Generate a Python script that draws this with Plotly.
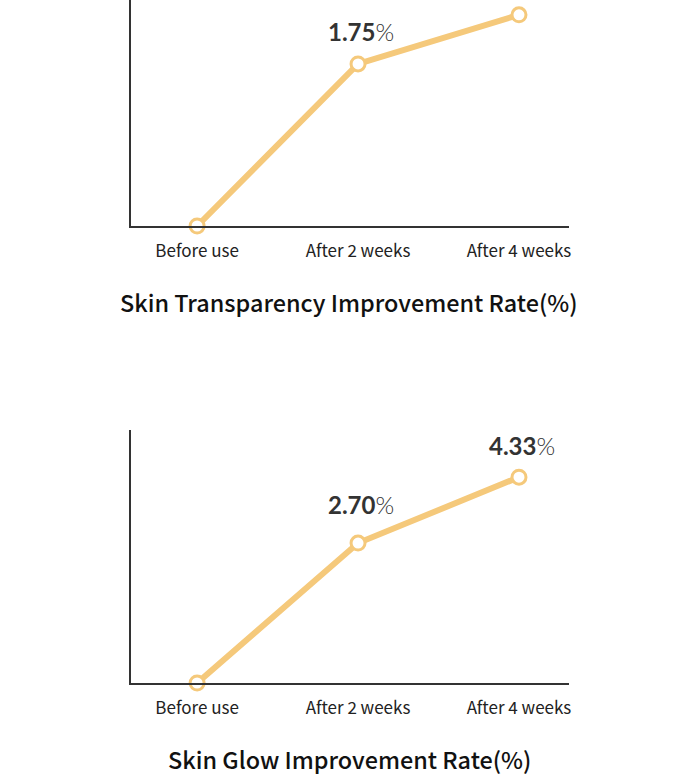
import plotly.graph_objects as go

categories = ["Before use", "After 2 weeks", "After 4 weeks"]
transparency_values = [0.0, 1.75, 2.28]
transparency_labels = ["", "1.75", ""]
glow_values = [0.0, 2.70, 3.97]
glow_labels = ["", "2.70", "4.33"]
titles = ["Skin Transparency Improvement Rate(%)", "Skin Glow Improvement Rate(%)"]

W, H = 700, 784
LINE = "#F5C97B"
TXT = "#222222"
LABEL_FONT = "Noto Sans CJK KR"

fig = go.Figure()

panels = [
    dict(vals=transparency_values, labels=transparency_labels, xa="x", ya="y",
         xaxis="xaxis", yaxis="yaxis", top=0, bottom=226, yrange=[0, 2.44],
         title_y=302, shifts=[0, 32, 32]),
    dict(vals=glow_values, labels=glow_labels, xa="x2", ya="y2",
         xaxis="xaxis2", yaxis="yaxis2", top=430, bottom=683, yrange=[0, 4.88],
         title_y=759, shifts=[0, 39, 32]),
]

x_left, x_right = 131.5, 570.5
annotations = []
for i, p in enumerate(panels):
    fig.add_trace(go.Scatter(
        x=categories, y=p["vals"], xaxis=p["xa"], yaxis=p["ya"],
        mode="lines+markers",
        line=dict(color=LINE, width=6),
        marker=dict(size=14, color="white", line=dict(color=LINE, width=3)),
        cliponaxis=False, showlegend=False, hoverinfo="skip",
    ))
    for c, v, lab, sh in zip(categories, p["vals"], p["labels"], p["shifts"]):
        if lab:
            annotations.append(dict(
                x=c, y=v, xref=p["xa"], yref=p["ya"], showarrow=False,
                text=f"<b>{lab}</b><span style='font-weight:300'>%</span>",
                font=dict(family="Lato", size=24, color="#333333", weight=900),
                yshift=sh, xshift=3,
            ))
    annotations.append(dict(
        x=0.5, y=1 - p["title_y"] / H, xref="paper", yref="paper",
        showarrow=False, text=titles[i],
        font=dict(family=LABEL_FONT, size=23.4, color="#111111", weight=500),
        xanchor="center", yanchor="middle",
    ))
    ax_common = dict(
        domain=[x_left / W, x_right / W],
        type="category", range=[-0.41, 2.31],
        showline=True, linecolor="#333333", linewidth=1.5,
        showgrid=False, zeroline=False, ticks="",
        ticklabelstandoff=9,
        tickfont=dict(family=LABEL_FONT, size=17, color=TXT),
        fixedrange=True,
    )
    ay_common = dict(
        domain=[1 - p["bottom"] / H, 1 - p["top"] / H],
        range=p["yrange"], showline=True, linecolor="#333333", linewidth=1.5,
        showgrid=False, zeroline=False, showticklabels=False, ticks="",
        fixedrange=True,
    )
    if i == 1:
        ax_common["anchor"] = "y2"
        ay_common["anchor"] = "x2"
    fig.layout[p["xaxis"]] = ax_common
    fig.layout[p["yaxis"]] = ay_common

fig.update_layout(
    width=W, height=H,
    margin=dict(l=0, r=0, t=0, b=0),
    paper_bgcolor="white", plot_bgcolor="white",
    annotations=annotations,
)

fig.write_html("out.html", config={"displayModeBar": False})
